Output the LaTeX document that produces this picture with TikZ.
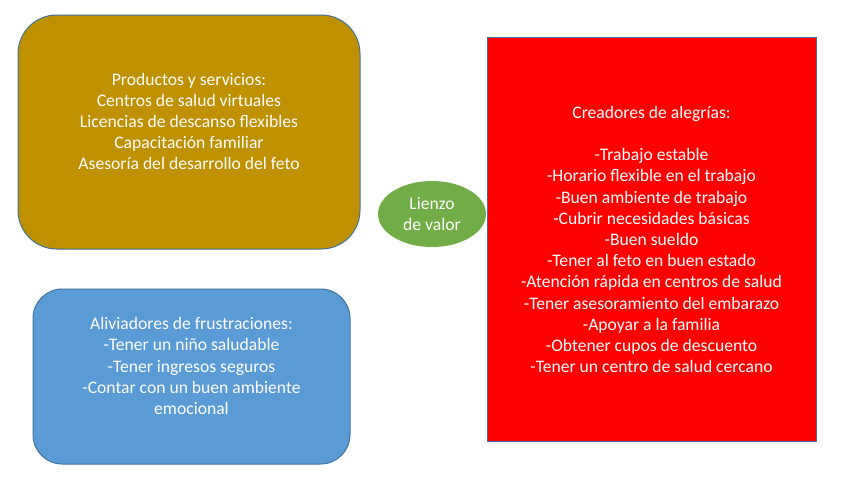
\documentclass[tikz,border=0pt]{standalone}
\usepackage{fontspec}
\setmainfont{Carlito}
\usetikzlibrary{shapes.geometric}
\definecolor{goldbox}{HTML}{BF9000}
\definecolor{bluebox}{HTML}{5B9BD5}
\definecolor{greenbox}{HTML}{70AD47}
\definecolor{redbox}{HTML}{FF0000}
\definecolor{edge}{HTML}{41719C}
\tikzset{panel/.style={draw=edge,line width=0.75pt,text=white,align=center,
  inner sep=0pt,font=\fontsize{13.2}{15.9}\selectfont}}
\begin{document}
\begin{tikzpicture}[x=0.75pt,y=-0.75pt]
\useasboundingbox (0,0) rectangle (857,483);
% \draw[help lines] (0,0) grid (857,483);
\node (prod) [panel,fill=goldbox,rounded corners=29pt,minimum width=256.5pt,minimum height=175.5pt] at (189,132)
  {Productos y servicios:\\Centros de salud virtuales\\Licencias de descanso flexibles\\Capacitación familiar\\Asesoría del desarrollo del feto\\\mbox{}};
%
\node (alivio) [panel,fill=bluebox,rounded corners=22pt,minimum width=237.75pt,minimum height=131.25pt] at (191.5,376.5)
  {Aliviadores de frustraciones:\\-Tener un niño saludable\\-Tener ingresos seguros\\-Contar con un buen ambiente\\emocional\\\mbox{}};
%
\node (lienzo) [panel,ellipse,draw=none,fill=greenbox,minimum width=81pt,minimum height=49.5pt] at (432,214)
  {Lienzo\\de valor};
%
\node (alegria) [panel,fill=redbox,minimum width=246.75pt,minimum height=303pt] at (651.5,239.5)
  {Creadores de alegrías:\\\mbox{}\\-Trabajo estable\\-Horario flexible en el trabajo\\-Buen ambiente de trabajo\\-Cubrir necesidades básicas\\-Buen sueldo\\-Tener al feto en buen estado\\-Atención rápida en centros de salud\\-Tener asesoramiento del embarazo\\-Apoyar a la familia\\-Obtener cupos de descuento\\-Tener un centro de salud cercano};
\end{tikzpicture}
\end{document}
